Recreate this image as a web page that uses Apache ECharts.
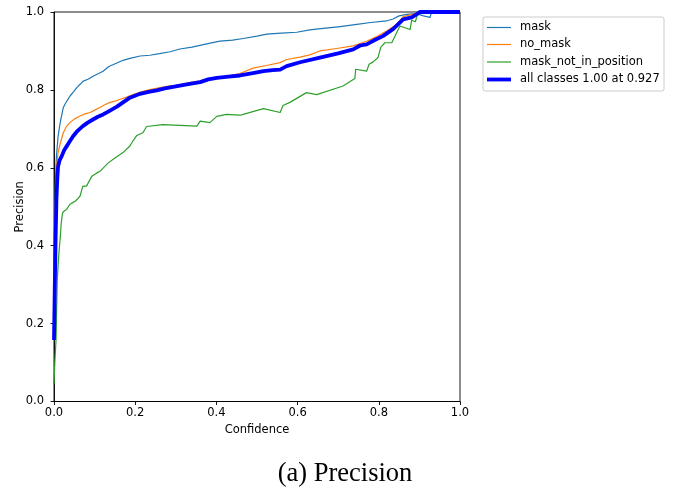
<!DOCTYPE html>
<html>
<head>
<meta charset="utf-8">
<script src="https://cdn.jsdelivr.net/npm/echarts@6/dist/echarts.min.js"></script>
<style>html,body{margin:0;padding:0;background:#fff}#c{width:677px;height:489px}</style>
</head>
<body>
<div id="c"></div>
<script>
const seriesNames = ['mask', 'no_mask', 'mask_not_in_position', 'all classes 1.00 at 0.927'];
const xTicks = [0, 0.2, 0.4, 0.6, 0.8, 1.0];
const yTicks = [0, 0.2, 0.4, 0.6, 0.8, 1.0];

const maskData = [[0,0.35],[0.003,0.55],[0.006,0.63],[0.01,0.68],[0.015,0.715],[0.019,0.735],[0.023,0.755],[0.028,0.765],[0.035,0.777],[0.04,0.785],[0.048,0.795],[0.056,0.806],[0.065,0.815],[0.071,0.822],[0.085,0.828],[0.096,0.835],[0.11,0.842],[0.121,0.848],[0.135,0.86],[0.155,0.869],[0.17,0.876],[0.187,0.881],[0.212,0.887],[0.236,0.889],[0.26,0.893],[0.286,0.898],[0.31,0.905],[0.34,0.91],[0.376,0.918],[0.409,0.925],[0.44,0.928],[0.466,0.932],[0.5,0.938],[0.524,0.943],[0.56,0.946],[0.598,0.948],[0.63,0.954],[0.663,0.958],[0.7,0.962],[0.746,0.968],[0.78,0.973],[0.819,0.977],[0.835,0.982],[0.85,0.99],[0.869,0.994],[0.893,0.996],[0.91,0.99],[0.926,0.986],[0.93,0.999],[1.0,1.0]];

const noMaskData = [[0,0.3],[0.003,0.5],[0.006,0.6],[0.01,0.639],[0.016,0.665],[0.023,0.69],[0.03,0.705],[0.039,0.716],[0.05,0.725],[0.064,0.733],[0.078,0.739],[0.089,0.742],[0.1,0.748],[0.113,0.755],[0.125,0.762],[0.138,0.768],[0.15,0.771],[0.163,0.776],[0.18,0.782],[0.195,0.788],[0.215,0.795],[0.236,0.801],[0.258,0.805],[0.278,0.809],[0.3,0.812],[0.318,0.815],[0.34,0.82],[0.36,0.823],[0.384,0.829],[0.409,0.831],[0.43,0.836],[0.458,0.842],[0.49,0.856],[0.52,0.862],[0.557,0.87],[0.573,0.878],[0.606,0.884],[0.63,0.89],[0.655,0.9],[0.7,0.907],[0.737,0.913],[0.77,0.925],[0.795,0.937],[0.819,0.951],[0.844,0.968],[0.86,0.988],[0.884,0.994],[0.897,1.0],[1.0,1.0]];

const notInPosData = [[0,0.045],[0.002,0.1],[0.005,0.158],[0.008,0.313],[0.012,0.38],[0.015,0.416],[0.018,0.46],[0.021,0.484],[0.026,0.49],[0.031,0.493],[0.039,0.506],[0.045,0.51],[0.052,0.514],[0.058,0.52],[0.064,0.527],[0.071,0.553],[0.075,0.548],[0.08,0.553],[0.093,0.578],[0.103,0.585],[0.113,0.591],[0.133,0.612],[0.15,0.625],[0.17,0.639],[0.187,0.656],[0.195,0.67],[0.204,0.683],[0.219,0.69],[0.228,0.706],[0.268,0.711],[0.352,0.707],[0.36,0.72],[0.384,0.716],[0.401,0.732],[0.425,0.737],[0.458,0.735],[0.466,0.737],[0.516,0.752],[0.557,0.742],[0.564,0.76],[0.581,0.768],[0.622,0.793],[0.647,0.788],[0.712,0.81],[0.741,0.829],[0.743,0.853],[0.77,0.848],[0.776,0.866],[0.786,0.872],[0.798,0.883],[0.805,0.91],[0.815,0.921],[0.832,0.921],[0.852,0.964],[0.877,0.955],[0.881,0.979],[0.89,0.975],[0.897,1.0],[1.0,1.0]];

const allData = [[0,0.158],[0.002,0.3],[0.004,0.42],[0.006,0.52],[0.008,0.57],[0.01,0.603],[0.014,0.62],[0.019,0.63],[0.025,0.645],[0.031,0.655],[0.039,0.668],[0.047,0.681],[0.058,0.695],[0.071,0.707],[0.083,0.716],[0.096,0.724],[0.108,0.731],[0.121,0.737],[0.138,0.747],[0.155,0.757],[0.17,0.768],[0.187,0.78],[0.212,0.79],[0.233,0.795],[0.253,0.799],[0.273,0.804],[0.293,0.808],[0.327,0.814],[0.36,0.82],[0.38,0.827],[0.401,0.831],[0.43,0.834],[0.458,0.837],[0.49,0.843],[0.516,0.848],[0.539,0.851],[0.557,0.852],[0.573,0.861],[0.606,0.871],[0.655,0.883],[0.7,0.894],[0.737,0.904],[0.754,0.914],[0.77,0.917],[0.79,0.928],[0.81,0.938],[0.835,0.956],[0.86,0.981],[0.881,0.986],[0.893,0.994],[0.901,1.0],[1.0,1.0]];

const colors = ['#1f77b4', '#ff7f0e', '#2ca02c', '#0000ff'];
const widths = [1.2, 1.2, 1.2, 3.8];
const datasets = [maskData, noMaskData, notInPosData, allData];

const FONT = 'DejaVu Sans';
const chart = echarts.init(document.getElementById('c'), null, {renderer: 'canvas'});

const legendItems = [];
const legendX = 483, legendY = 17, legendW = 181, legendH = 74;
legendItems.push({type:'rect', shape:{x:legendX, y:legendY, width:legendW, height:legendH, r:2},
  style:{fill:'rgba(255,255,255,0.8)', stroke:'#cccccc', lineWidth:1}});
const rowY = [27.5, 44.5, 62, 79.5];
seriesNames.forEach((n, i) => {
  legendItems.push({type:'line', shape:{x1:487, y1:rowY[i], x2:511, y2:rowY[i]},
    style:{stroke:colors[i], lineWidth:widths[i]}});
  legendItems.push({type:'text', x:520, y:rowY[i],
    style:{text:n, font:'11.5px "' + FONT + '"', fill:'#000', verticalAlign:'middle', align:'left'}});
});
legendItems.push({type:'text', x:345, y:474, style:{text:'(a) Precision', font:'26.5px "Liberation Serif"', fill:'#000', align:'center', verticalAlign:'middle'}});

chart.setOption({
  animation: false,
  backgroundColor: '#fff',
  grid: {left: 54, top: 12, width: 406, height: 389.5, show: true, borderColor: '#000', borderWidth: 0.9,
    backgroundColor: 'transparent', containLabel: false, outerBoundsMode: 'none'},
  xAxis: {
    type: 'value', min: 0, max: 1, interval: 0.2,
    name: 'Confidence', nameLocation: 'middle', nameGap: 23, nameMoveOverlap: false,
    nameTextStyle: {fontFamily: FONT, fontSize: 11.5, color: '#000'},
    axisLine: {show: true, lineStyle: {color: '#000', width: 0.9}},
    axisTick: {show: true, inside: false, length: 3.5, lineStyle: {color: '#000', width: 0.9}},
    axisLabel: {fontFamily: FONT, fontSize: 11.5, color: '#000', margin: 6,
      formatter: v => v.toFixed(1)},
    splitLine: {show: false}
  },
  yAxis: {
    type: 'value', min: 0, max: 1, interval: 0.2,
    name: 'Precision', nameLocation: 'middle', nameGap: 28, nameMoveOverlap: false,
    nameTextStyle: {fontFamily: FONT, fontSize: 11.5, color: '#000'},
    axisLine: {show: true, lineStyle: {color: '#000', width: 0.9}},
    axisTick: {show: true, inside: false, length: 3.5, lineStyle: {color: '#000', width: 0.9}},
    axisLabel: {fontFamily: FONT, fontSize: 11.5, color: '#000', margin: 10,
      formatter: v => v.toFixed(1)},
    splitLine: {show: false}
  },
  series: datasets.map((d, i) => ({
    name: seriesNames[i], type: 'line', data: d, showSymbol: false, symbol: 'none',
    z: 2 + i,
    lineStyle: {color: colors[i], width: widths[i], join: 'round'},
    clip: true
  })),
  graphic: legendItems
});
</script>
</body>
</html>
